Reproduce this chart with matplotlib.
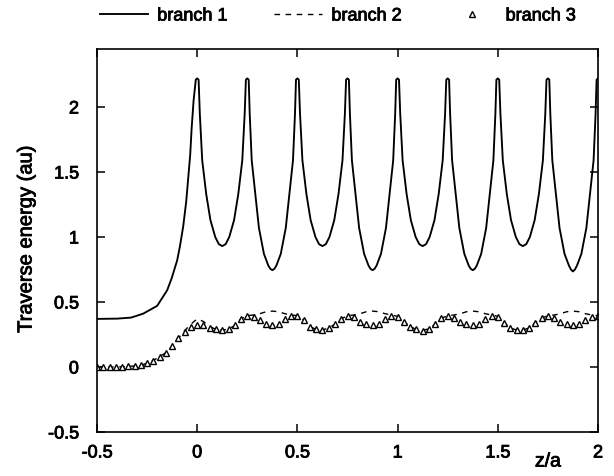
import matplotlib
matplotlib.use('Agg')
import matplotlib.pyplot as plt
import matplotlib.patheffects as pe
import numpy as np
from matplotlib.lines import Line2D

plt.rcParams['font.family'] = ['Liberation Sans', 'DejaVu Sans']
plt.rcParams['axes.unicode_minus'] = False

# ---------------- data ----------------
# branch 1 : solid line
b1_z = [-0.5, -0.4, -0.33, -0.27, -0.2, -0.15, -0.128, -0.1, -0.086, -0.07, -0.055, -0.045, -0.035, -0.028, -0.018, -0.007, 0.0,
        0.007, 0.013, 0.025, 0.045, 0.066, 0.09, 0.108, 0.125, 0.142, 0.16, 0.184, 0.205, 0.225, 0.237, 0.243, 0.25,
        0.257, 0.262, 0.272, 0.29, 0.308, 0.333, 0.355, 0.365, 0.375, 0.385, 0.395, 0.417, 0.442, 0.46, 0.478, 0.488, 0.493, 0.5,
        0.507, 0.513, 0.525, 0.545, 0.566, 0.59, 0.608, 0.625, 0.642, 0.66, 0.684, 0.705, 0.725, 0.737, 0.743, 0.75,
        0.757, 0.762, 0.772, 0.79, 0.808, 0.833, 0.855, 0.865, 0.875, 0.885, 0.895, 0.917, 0.942, 0.96, 0.978, 0.988, 0.993, 1.0,
        1.007, 1.013, 1.025, 1.045, 1.066, 1.09, 1.108, 1.125, 1.142, 1.16, 1.184, 1.205, 1.225, 1.237, 1.243, 1.25,
        1.257, 1.262, 1.272, 1.29, 1.308, 1.333, 1.355, 1.365, 1.375, 1.385, 1.395, 1.417, 1.442, 1.46, 1.478, 1.488, 1.493, 1.5,
        1.507, 1.513, 1.525, 1.545, 1.566, 1.59, 1.608, 1.625, 1.642, 1.66, 1.684, 1.705, 1.725, 1.737, 1.743, 1.75,
        1.757, 1.762, 1.772, 1.79, 1.808, 1.833, 1.855, 1.865, 1.875, 1.885, 1.895, 1.917, 1.942, 1.96, 1.978, 1.988, 1.993, 2.0]
b1_v = [0.37, 0.372, 0.38, 0.41, 0.47, 0.59, 0.68, 0.82, 0.93, 1.08, 1.27, 1.45, 1.63, 1.83, 2.05, 2.21, 2.22,
        2.21, 1.95, 1.59, 1.33, 1.13, 1.0, 0.945, 0.93, 0.945, 1.0, 1.13, 1.33, 1.59, 1.95, 2.21, 2.22,
        2.21, 1.95, 1.59, 1.33, 1.07, 0.87, 0.78, 0.755, 0.745, 0.755, 0.78, 0.87, 1.07, 1.33, 1.59, 1.95, 2.21, 2.22,
        2.21, 1.95, 1.59, 1.33, 1.13, 1.0, 0.945, 0.93, 0.945, 1.0, 1.13, 1.33, 1.59, 1.95, 2.21, 2.22,
        2.21, 1.95, 1.59, 1.33, 1.07, 0.87, 0.78, 0.755, 0.745, 0.755, 0.78, 0.87, 1.07, 1.33, 1.59, 1.95, 2.21, 2.22,
        2.21, 1.95, 1.59, 1.33, 1.13, 1.0, 0.945, 0.93, 0.945, 1.0, 1.13, 1.33, 1.59, 1.95, 2.21, 2.22,
        2.21, 1.95, 1.59, 1.33, 1.07, 0.87, 0.78, 0.755, 0.745, 0.755, 0.78, 0.87, 1.07, 1.33, 1.59, 1.95, 2.21, 2.22,
        2.21, 1.95, 1.59, 1.33, 1.13, 1.0, 0.945, 0.93, 0.945, 1.0, 1.13, 1.33, 1.59, 1.95, 2.21, 2.22,
        2.21, 1.95, 1.59, 1.33, 1.07, 0.87, 0.78, 0.75, 0.735, 0.75, 0.78, 0.87, 1.07, 1.33, 1.59, 1.95, 2.21, 2.22]

# sampling grid shared by branch 2 and branch 3 (step 1/32)
b23_z = np.linspace(-0.5, 2.0, 81)

# branch 3 : triangles
b3_v = [0.0, 0.0, 0.0, 0.0, 0.002, 0.005, 0.008, 0.012, 0.03, 0.05, 0.08, 0.11, 0.16, 0.22, 0.27, 0.305,
        0.325, 0.32, 0.30, 0.29, 0.285, 0.29, 0.32, 0.37,
        0.39, 0.385, 0.36, 0.33, 0.325, 0.33, 0.37, 0.39,
        0.39, 0.36, 0.31, 0.29, 0.285, 0.30, 0.33, 0.37,
        0.39, 0.385, 0.35, 0.33, 0.325, 0.33, 0.37, 0.39,
        0.385, 0.35, 0.31, 0.29, 0.28, 0.295, 0.33, 0.375,
        0.39, 0.38, 0.35, 0.33, 0.325, 0.33, 0.37, 0.39,
        0.385, 0.34, 0.30, 0.285, 0.285, 0.30, 0.34, 0.375,
        0.39, 0.38, 0.35, 0.33, 0.325, 0.33, 0.36, 0.385,
        0.39]

# branch 2 : dashed line
b2_v = [0.0, 0.0, 0.0, 0.0, 0.002, 0.005, 0.008, 0.012, 0.03, 0.05, 0.08, 0.11, 0.16, 0.22, 0.28, 0.33,
        0.37, 0.35, 0.31, 0.29, 0.285, 0.29, 0.32, 0.37,
        0.395, 0.40, 0.41, 0.425, 0.43, 0.425, 0.41, 0.40,
        0.395, 0.36, 0.31, 0.29, 0.285, 0.30, 0.33, 0.37,
        0.395, 0.40, 0.41, 0.425, 0.43, 0.425, 0.41, 0.40,
        0.39, 0.35, 0.31, 0.29, 0.28, 0.295, 0.33, 0.375,
        0.395, 0.40, 0.41, 0.425, 0.43, 0.425, 0.41, 0.40,
        0.39, 0.34, 0.30, 0.285, 0.285, 0.30, 0.34, 0.375,
        0.395, 0.40, 0.41, 0.425, 0.43, 0.425, 0.41, 0.40,
        0.395]

x_ticks = [-0.5, 0, 0.5, 1, 1.5, 2]
x_ticklabels = ['-0.5', '0', '0.5', '1', '1.5', '2']
y_ticks = [-0.5, 0, 0.5, 1, 1.5, 2]
y_ticklabels = ['-0.5', '0', '0.5', '1', '1.5', '2']
series_names = ['branch 1', 'branch 2', 'branch 3']

# ---------------- figure ----------------
W, H = 614, 477
fig = plt.figure(figsize=(W / 100, H / 100), dpi=100)
ax = fig.add_axes([97 / W, 1 - 433 / H, (598 - 97) / W, (433 - 49.5) / H])
ax.set_xlim(-0.5, 2.0)
ax.set_ylim(-0.5, 2.45)

thick = [pe.withStroke(linewidth=0.6, foreground='black')]

ax.plot(b1_z, b1_v, color='black', lw=1.35, solid_joinstyle='round')
ax.plot(b23_z, b2_v, color='black', lw=1.0, linestyle=(0, (4, 4)))
ax.plot(b23_z, b3_v, linestyle='none', marker='^', markersize=5.0,
        markerfacecolor='white', markeredgecolor='black', markeredgewidth=1.0)

ax.set_xticks(x_ticks)
ax.set_xticklabels(x_ticklabels)
ax.set_yticks(y_ticks)
ax.set_yticklabels(y_ticklabels)
ax.tick_params(direction='in', length=6, width=1.1, top=True, right=True, labelsize=13)
ax.tick_params(axis='y', pad=13)
ax.tick_params(axis='x', pad=9)
for s in ax.spines.values():
    s.set_linewidth(1.2)
for lab in ax.get_xticklabels() + ax.get_yticklabels():
    lab.set_path_effects(thick)

fig.text(26 / W, 1 - 240 / H, 'Traverse energy (au)', rotation=90,
         ha='center', va='center', fontsize=14.5, path_effects=thick)
fig.text(548 / W, 1 - 463 / H, 'z/a', ha='center', va='center', fontsize=14,
         path_effects=thick)

handles = [Line2D([], [], color='black', lw=1.35),
           Line2D([], [], color='black', lw=1.0, linestyle=(0, (4, 4))),
           Line2D([], [], linestyle='none', marker='^', markersize=5.0,
                  markerfacecolor='white', markeredgecolor='black', markeredgewidth=1.0)]
leg = fig.legend(handles, series_names, ncol=3, frameon=False, loc='center left',
                 bbox_to_anchor=(100 / W, 1 - 17 / H), handlelength=2.67, handletextpad=0.5,
                 columnspacing=2.6, fontsize=13, borderaxespad=0, borderpad=0, numpoints=1)
for t in leg.get_texts():
    t.set_path_effects(thick)

fig.savefig('out.png', dpi=100)
